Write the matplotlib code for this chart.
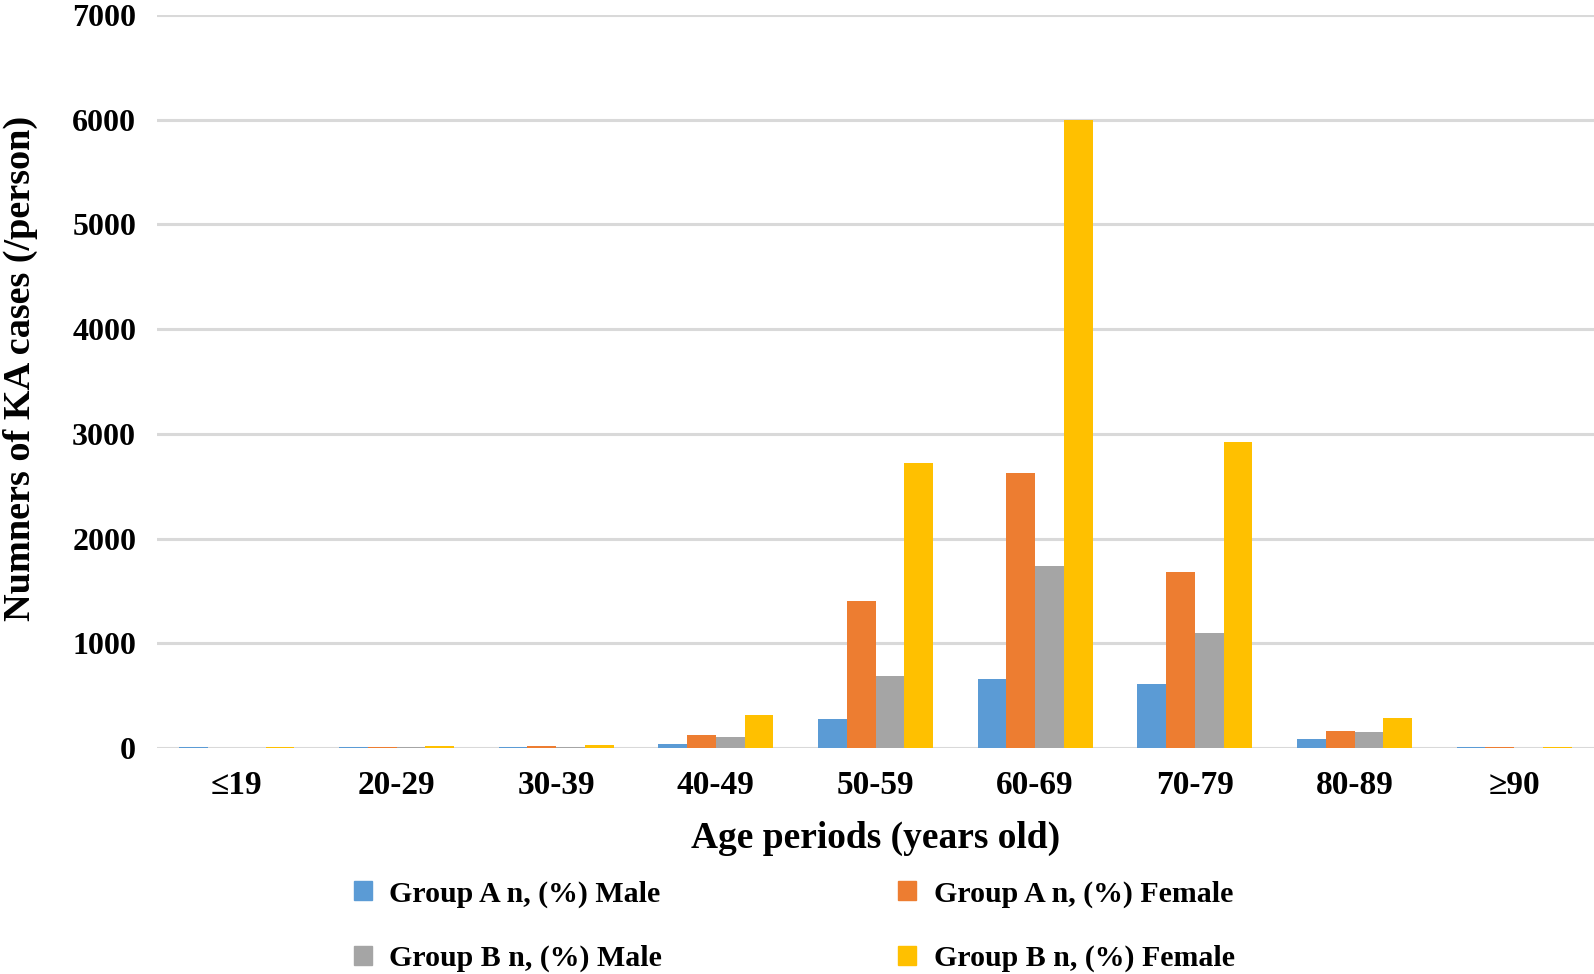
import numpy as np
import matplotlib.pyplot as plt
from matplotlib.patches import Patch

# Dane
categories = ['≤19', '20-29', '30-39', '40-49', '50-59', '60-69', '70-79', '80-89', '≥90']
a_male = [8, 10, 10, 35, 280, 660, 612, 83, 6]
a_female = [2, 12, 15, 120, 1408, 2630, 1680, 160, 6]
b_male = [1, 8, 12, 110, 690, 1738, 1097, 155, 4]
b_female = [10, 15, 25, 320, 2718, 6000, 2922, 290, 6]

series = [a_male, a_female, b_male, b_female]
labels = ['Group A n, (%) Male', 'Group A n, (%) Female',
          'Group B n, (%) Male', 'Group B n, (%) Female']
colors = ['#5b9bd5', '#ed7d31', '#a5a5a5', '#ffc000']

plt.rcParams['font.family'] = ['Liberation Serif', 'DejaVu Serif']
plt.rcParams['font.weight'] = 'bold'

fig = plt.figure(figsize=(15.94, 9.74), dpi=100)
ax = fig.add_axes([0.0985, 0.232, 0.9015, 0.7526])

x = np.arange(len(categories))
w = 0.18
for i, (vals, c) in enumerate(zip(series, colors)):
    ax.bar(x + (i - 1.5) * w, vals, width=w, color=c, zorder=3)

ax.set_xlim(-0.5, len(categories) - 0.5)
ax.set_ylim(0, 7000)
ax.set_yticks(range(0, 7001, 1000))
ax.set_xticks(x)
ax.set_xticklabels(categories, fontsize=24, fontweight='bold')
ax.tick_params(axis='y', labelsize=23, length=0, pad=15)
ax.tick_params(axis='x', length=0, pad=16)
for t in ax.get_yticklabels():
    t.set_fontweight('bold')
ax.grid(axis='y', color='#d9d9d9', linewidth=2.2, zorder=0)
ax.set_axisbelow(True)
for s in ax.spines.values():
    s.set_visible(False)

ax.set_xlabel('Age periods (years old)', fontsize=27, fontweight='bold', labelpad=14)
fig.text(0.013, 0.622, 'Numners of KA cases (/person)', rotation=90, fontsize=27.5,
         fontweight='bold', ha='center', va='center')

# legenda wypełniana kolumnami -> kolejność tak, by wiersze były A / B
order = [0, 2, 1, 3]
handles = [Patch(color=colors[i]) for i in order]
fig.legend(handles, [labels[i] for i in order], ncol=2, loc='lower left',
           bbox_to_anchor=(0.205, -0.026), frameon=False, fontsize=21.5,
           handlelength=0.6, handleheight=0.6, handletextpad=0.6,
           columnspacing=7.9, labelspacing=1.25)

plt.savefig('out.png', dpi=100)
